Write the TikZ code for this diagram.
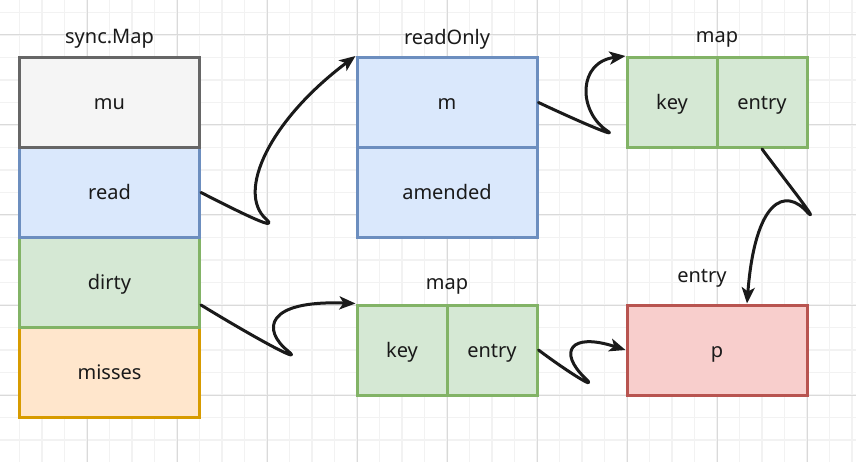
\documentclass[tikz,border=0pt]{standalone}
\usepackage{fontspec}
\setmainfont{Noto Sans}
\usetikzlibrary{arrows.meta,calc}

\definecolor{gridminor}{HTML}{F2F2F2}
\definecolor{gridmajor}{HTML}{DADADA}
\definecolor{grayfill}{HTML}{F5F5F5}
\definecolor{graydraw}{HTML}{666666}
\definecolor{bluefill}{HTML}{DAE8FC}
\definecolor{bluedraw}{HTML}{6C8EBF}
\definecolor{greenfill}{HTML}{D5E8D4}
\definecolor{greendraw}{HTML}{82B366}
\definecolor{orangefill}{HTML}{FFE6CC}
\definecolor{orangedraw}{HTML}{D79B00}
\definecolor{redfill}{HTML}{F8CECC}
\definecolor{reddraw}{HTML}{B85450}
\definecolor{ink}{HTML}{1A1A1A}

\tikzset{
  cell/.style={rectangle, line width=3pt, minimum width=180pt, minimum height=90pt,
    inner sep=0pt, text=ink, font=\fontsize{20}{24}\selectfont,
    text height=14pt, text depth=0pt},
  half/.style={cell, minimum width=90pt},
  graycell/.style={cell, fill=grayfill, draw=graydraw},
  bluecell/.style={cell, fill=bluefill, draw=bluedraw},
  greenhalf/.style={half, fill=greenfill, draw=greendraw},
  greencell/.style={cell, fill=greenfill, draw=greendraw},
  orangecell/.style={cell, fill=orangefill, draw=orangedraw},
  redcell/.style={cell, fill=redfill, draw=reddraw},
  title/.style={text=ink, font=\fontsize{20}{24}\selectfont, inner sep=0pt},
  link/.style={draw=ink, line width=3pt, line cap=round, line join=round,
    -{Stealth[length=16pt,width=13pt,inset=4pt]}},
}

\begin{document}
\begin{tikzpicture}[x=1pt, y=-1pt]
\useasboundingbox (0,0) rectangle (856,462);

% background grid: minor every 22.5, major every 90
\fill[white] (0,0) rectangle (856,462);
\foreach \i in {0,...,39} {
  \draw[gridminor, line width=1.2pt] ({-3+22.5*\i},0) -- ({-3+22.5*\i},462);
}
\foreach \i in {0,...,21} {
  \draw[gridminor, line width=1.2pt] (0,{-10+22.5*\i}) -- (856,{-10+22.5*\i});
}
\foreach \i in {1,...,9} {
  \draw[gridmajor, line width=1pt] ({-3+90*\i},0) -- ({-3+90*\i},462);
}
\foreach \i in {0,...,4} {
  \draw[gridmajor, line width=1pt] (0,{35+90*\i}) -- (856,{35+90*\i});
}

% sync.Map column (drawn bottom-up so each upper border stays on top)
\node[orangecell] (misses) at (109.5,372.5) {misses};
\node[greencell]  (dirty)  at (109.5,282.5) {dirty};
\node[bluecell]   (read)   at (109.5,192.5) {read};
\node[graycell]   (mu)     at (109.5,102.5) {mu};
\node[title] (lsync) at (109.5,39) {sync.Map};

% readOnly
\node[bluecell] (amended) at (447,192.5) {amended};
\node[bluecell] (m)       at (447,102.5) {m};
\node[title] (lread) at (447,39) {readOnly};

% map held by readOnly
\node[greenhalf] (tkey)   at (672,102.5) {key};
\node[greenhalf] (tentry) at (762,102.5) {entry};
\node[title] (ltmap) at (717,39) {map};

% dirty map
\node[greenhalf] (bkey)   at (402,350) {key};
\node[greenhalf] (bentry) at (492,350) {entry};
\node[title] (lbmap) at (447,286) {map};

% entry
\node[redcell] (p) at (717,350) {p};
\node[title] (lentry) at (702,278) {entry};

% connectors
\draw[link] (read.east) .. controls (245,215) and (280,232) .. (266,219)
  .. controls (236,192) and (270,120) .. (m.north west);
\draw[link] (m.east) .. controls (580,122) and (622,140) .. (606,130)
  .. controls (578,110) and (578,62) .. (tkey.north west);
\draw[link] (tentry.south) .. controls (785,180) and (820,224) .. (808,213)
  .. controls (785,186) and (755,200) .. ($(p.north)+(30,0)$);
\draw[link] ($(dirty.east)+(0,22.5)$) .. controls (250,335) and (306,366) .. (288,351)
  .. controls (262,330) and (265,300) .. (bkey.north west);
\draw[link] (bentry.east) .. controls (565,370) and (601,393) .. (585,378)
  .. controls (558,352) and (570,332) .. (p.west);
\end{tikzpicture}
\end{document}
